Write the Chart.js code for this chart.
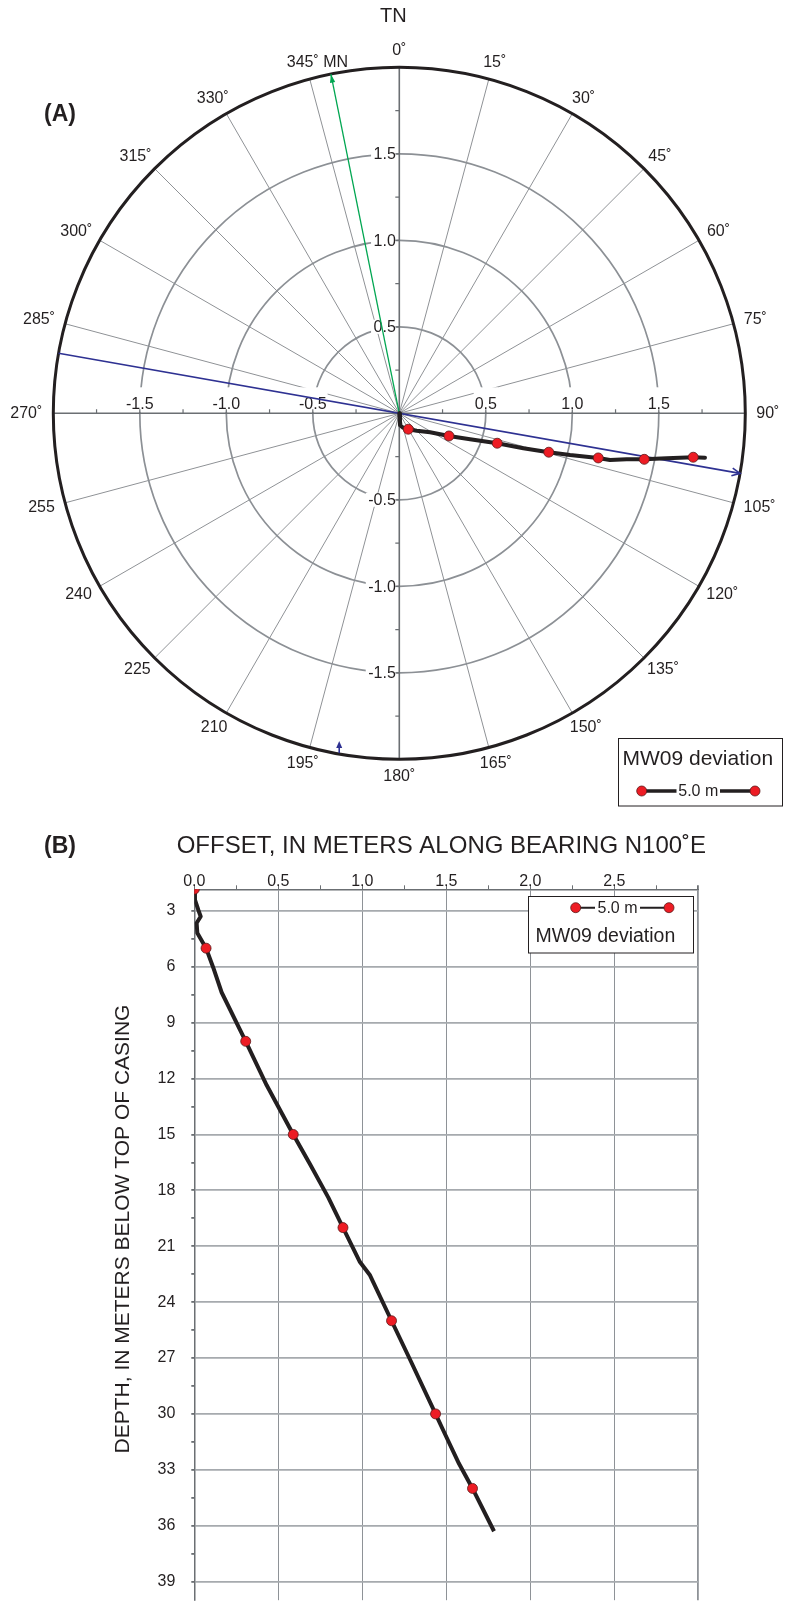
<!DOCTYPE html>
<html>
<head>
<meta charset="utf-8">
<script src="https://cdn.jsdelivr.net/npm/chart.js@4.4.1/dist/chart.umd.min.js"></script>
<style>
  html, body { margin: 0; padding: 0; background: #fff; }
  body { width: 785px; height: 1606px; overflow: hidden; position: relative; }
  canvas { position: absolute; left: 0; }
  #planChart { top: 0; }
  #depthChart { top: 815px; }
</style>
</head>
<body>
<canvas id="planChart" width="785" height="815"></canvas>
<canvas id="depthChart" width="785" height="791"></canvas>
<script>
// ---- chart values ----
var wellLabel = 'MW09 deviation';
var markerLabel = '5.0 m';
var projBearing = 100;      // N100˚E, bearing of the projection line
var magNorth = 348.6;       // bearing of magnetic north
var ringValues = [0.5, 1.0, 1.5];
var outerRadius = 2.0;
var spokeStep = 15;
var noDegree = [210, 225, 240, 255];

// plan view of the hole (meters east / north of top of casing)
var planEast  = [0, 0.004, 0.02, 0.052, 0.101, 0.178, 0.287, 0.409, 0.566, 0.717, 0.864, 0.987, 1.150, 1.218, 1.314, 1.416, 1.546, 1.699, 1.767];
var planNorth = [0, -0.068, -0.082, -0.092, -0.101, -0.110, -0.131, -0.150, -0.173, -0.202, -0.225, -0.241, -0.258, -0.270, -0.266, -0.266, -0.260, -0.254, -0.257];
var dotEast  = [0.052, 0.287, 0.566, 0.864, 1.150, 1.416, 1.699];
var dotNorth = [-0.092, -0.131, -0.173, -0.225, -0.258, -0.266, -0.254];

// section along the bearing
var offsetM = [0.0, 0.004, 0.024, 0.038, 0.014, 0.018, 0.07, 0.113, 0.163, 0.306, 0.431, 0.589, 0.689, 0.798, 0.885, 0.986, 1.046, 1.174, 1.284, 1.436, 1.492, 1.576, 1.656, 1.784];
var depthM  = [1.84, 2.41, 2.95, 3.30, 3.65, 4.19, 5.0, 6.05, 7.38, 10.0, 12.36, 15.0, 16.6, 18.39, 20.0, 21.85, 22.56, 25.0, 27.08, 30.0, 31.08, 32.68, 34.0, 36.3];
var dotOffset = [0.0, 0.07, 0.306, 0.589, 0.885, 1.174, 1.436, 1.656];
var dotDepth  = [1.84, 5, 10, 15, 20, 25, 30, 34];

var offsetLabels = [0, 0.5, 1.0, 1.5, 2.0, 2.5];
var depthLabels = [3, 6, 9, 12, 15, 18, 21, 24, 27, 30, 33, 36, 39];
var depthMin = 1.84, depthMax = 40;
var offsetMin = 0, offsetMax = 3;

var FONT = '"Liberation Sans", Arial, Helvetica, sans-serif';
var INK = '#231f20';
var RED = '#ed1c24';
var GRID = '#8c9095';
var AXIS = '#6b6f73';

function rad(b) { return b * Math.PI / 180; }
function pts(xs, ys) { return xs.map(function (x, i) { return { x: x, y: ys[i] }; }); }

function legendSample(ctx, x1, x2, y, gapL, gapR, lw, size) {
  ctx.strokeStyle = INK; ctx.lineWidth = lw;
  ctx.beginPath(); ctx.moveTo(x1, y); ctx.lineTo(gapL, y); ctx.moveTo(gapR, y); ctx.lineTo(x2, y); ctx.stroke();
  ctx.fillStyle = INK; ctx.font = size + 'px ' + FONT;
  ctx.textAlign = 'center'; ctx.textBaseline = 'middle';
  ctx.fillText(markerLabel, (gapL + gapR) / 2, y + 0.5);
  [x1, x2].forEach(function (x) {
    ctx.beginPath(); ctx.arc(x, y, 5, 0, 2 * Math.PI);
    ctx.fillStyle = RED; ctx.fill();
    ctx.strokeStyle = '#5c1a1a'; ctx.lineWidth = 0.8; ctx.stroke();
  });
}

// ---- (A) plan view ----
var planDecor = {
  id: 'planDecor',
  beforeDatasetsDraw: function (chart) {
    var ctx = chart.ctx, sx = chart.scales.x, sy = chart.scales.y;
    var cx = sx.getPixelForValue(0), cy = sy.getPixelForValue(0);
    var R = sx.getPixelForValue(outerRadius) - cx;
    ctx.save();
    // spokes
    ctx.strokeStyle = '#8f9296'; ctx.lineWidth = 1;
    for (var b = 0; b < 360; b += spokeStep) {
      if (b % 90 === 0) continue;
      ctx.beginPath(); ctx.moveTo(cx, cy);
      ctx.lineTo(cx + R * Math.sin(rad(b)), cy - R * Math.cos(rad(b))); ctx.stroke();
    }
    // rings
    ctx.strokeStyle = GRID; ctx.lineWidth = 1.7;
    ringValues.forEach(function (v) {
      ctx.beginPath(); ctx.arc(cx, cy, sx.getPixelForValue(v) - cx, 0, 2 * Math.PI); ctx.stroke();
    });
    // tick labels on the two axes
    ctx.font = '16px ' + FONT;
    ringValues.forEach(function (v) {
      [v, -v].forEach(function (t) {
        var s = t.toFixed(1), w = ctx.measureText(s).width;
        var x = sx.getPixelForValue(t);
        ctx.fillStyle = '#fff'; ctx.fillRect(x - w / 2 - 1, cy - 26, w + 2, 24.5);
        ctx.fillStyle = INK; ctx.textAlign = 'center'; ctx.textBaseline = 'alphabetic';
        ctx.fillText(s, x, cy - 4.5);
        var y = sy.getPixelForValue(t);
        ctx.fillStyle = '#fff'; ctx.fillRect(cx - 4 - w - 2, y - 7, w + 3, 14);
        ctx.fillStyle = INK; ctx.textAlign = 'right'; ctx.textBaseline = 'middle';
        ctx.fillText(s, cx - 3.5, y + 1);
      });
    });
    // axes with quarter-meter ticks
    ctx.strokeStyle = AXIS; ctx.lineWidth = 1.6;
    ctx.beginPath();
    ctx.moveTo(cx - R, cy); ctx.lineTo(cx + R, cy);
    ctx.moveTo(cx, cy - R); ctx.lineTo(cx, cy + R);
    ctx.stroke();
    ctx.lineWidth = 1.2;
    for (var t = -1.75; t <= 1.76; t += 0.25) {
      if (Math.abs(t) < 0.01) continue;
      var px = sx.getPixelForValue(t), py = sy.getPixelForValue(t);
      ctx.beginPath();
      ctx.moveTo(px, cy); ctx.lineTo(px, cy - 4);
      ctx.moveTo(cx, py); ctx.lineTo(cx - 4, py);
      ctx.stroke();
    }
    // outer circle
    ctx.strokeStyle = INK; ctx.lineWidth = 3;
    ctx.beginPath(); ctx.arc(cx, cy, R, 0, 2 * Math.PI); ctx.stroke();
    // bearing labels
    ctx.fillStyle = INK; ctx.font = '16px ' + FONT;
    ctx.textBaseline = 'middle';
    for (b = 0; b < 360; b += spokeStep) {
      var txt = String(b) + (noDegree.indexOf(b) >= 0 ? '' : '˚');
      var w = ctx.measureText(txt).width, h = 12;
      var sn = Math.sin(rad(b)), cs = Math.cos(rad(b));
      var lx = cx + (R + 11) * sn + sn * w / 2;
      var ly = cy - (R + 11) * cs - cs * h / 2;
      if (b === 345) {
        ctx.textAlign = 'left';
        ctx.fillText(txt + ' MN', lx - w / 2, ly);
      } else {
        ctx.textAlign = 'center';
        ctx.fillText(txt, lx, ly);
      }
    }
    ctx.font = '20px ' + FONT; ctx.textAlign = 'center';
    ctx.fillText('TN', cx - 6, cy - R - 51);
    ctx.font = 'bold 23px ' + FONT;
    ctx.fillText('(A)', 60, 115);
    ctx.restore();
  },
  afterDatasetsDraw: function (chart) {
    var ctx = chart.ctx, sx = chart.scales.x, sy = chart.scales.y;
    var cx = sx.getPixelForValue(0), cy = sy.getPixelForValue(0);
    var R = sx.getPixelForValue(outerRadius) - cx;
    ctx.save();
    // blue open arrowhead at the projection bearing
    var a = rad(projBearing);
    var tx = cx + R * Math.sin(a), ty = cy - R * Math.cos(a);
    var back = a + Math.PI;
    ctx.strokeStyle = '#2e3192'; ctx.lineWidth = 1.6;
    ctx.beginPath();
    ctx.moveTo(tx + 9 * Math.sin(back - 0.45), ty - 9 * Math.cos(back - 0.45));
    ctx.lineTo(tx, ty);
    ctx.lineTo(tx + 9 * Math.sin(back + 0.45), ty - 9 * Math.cos(back + 0.45));
    ctx.stroke();
    // small marker at the perpendicular bearing
    var p = rad(projBearing + 90);
    var bx = cx + R * Math.sin(p), by = cy - R * Math.cos(p) - 1;
    ctx.fillStyle = '#2e3192';
    ctx.beginPath(); ctx.moveTo(bx, by); ctx.lineTo(bx, by - 9); ctx.stroke();
    ctx.beginPath(); ctx.moveTo(bx, by - 12); ctx.lineTo(bx - 3, by - 5); ctx.lineTo(bx + 3, by - 5); ctx.closePath(); ctx.fill();
    // green filled arrowhead for magnetic north
    a = rad(magNorth);
    tx = cx + R * Math.sin(a); ty = cy - R * Math.cos(a);
    back = a + Math.PI;
    ctx.fillStyle = '#00a651';
    ctx.beginPath();
    ctx.moveTo(tx, ty);
    ctx.lineTo(tx + 9 * Math.sin(back - 0.3), ty - 9 * Math.cos(back - 0.3));
    ctx.lineTo(tx + 9 * Math.sin(back + 0.3), ty - 9 * Math.cos(back + 0.3));
    ctx.closePath(); ctx.fill();
    // legend box
    ctx.strokeStyle = INK; ctx.lineWidth = 1;
    ctx.strokeRect(618.5, 738.5, 164, 67.5);
    ctx.fillStyle = INK; ctx.font = '21px ' + FONT;
    ctx.textAlign = 'left'; ctx.textBaseline = 'middle';
    ctx.fillText(wellLabel, 622.5, 759);
    legendSample(ctx, 641.7, 755, 791, 676.5, 720, 3.5, 16);
    ctx.restore();
  }
};

var bearingLine = [
  { x: outerRadius * Math.sin(rad(projBearing + 180)), y: outerRadius * Math.cos(rad(projBearing + 180)) },
  { x: outerRadius * Math.sin(rad(projBearing)), y: outerRadius * Math.cos(rad(projBearing)) }
];
var mnLine = [
  { x: 0, y: 0 },
  { x: outerRadius * Math.sin(rad(magNorth)), y: outerRadius * Math.cos(rad(magNorth)) }
];

new Chart(document.getElementById('planChart'), {
  type: 'scatter',
  data: {
    datasets: [
      { data: pts(dotEast, dotNorth), pointRadius: 5, pointBackgroundColor: RED,
        pointBorderColor: '#5c1a1a', pointBorderWidth: 0.8 },
      { data: pts(planEast, planNorth), showLine: true, borderColor: INK, borderWidth: 4,
        borderCapStyle: 'round', borderJoinStyle: 'round', pointRadius: 0 },
      { data: bearingLine, showLine: true, borderColor: '#2e3192', borderWidth: 1.7, pointRadius: 0 },
      { data: mnLine, showLine: true, borderColor: '#00a651', borderWidth: 1.3, pointRadius: 0 }
    ]
  },
  options: {
    responsive: false,
    animation: false,
    layout: { padding: { left: 53.3, top: 67.3, right: 39.7, bottom: 55.7 } },
    scales: {
      x: { type: 'linear', min: -outerRadius, max: outerRadius, display: false },
      y: { type: 'linear', min: -outerRadius, max: outerRadius, display: false }
    },
    plugins: { legend: { display: false }, tooltip: { enabled: false } }
  },
  plugins: [planDecor]
});

// ---- (B) section along N100˚E ----
var offsetTicks = [];
for (var i = 0; i <= 12; i++) offsetTicks.push(i * 0.25);
var depthTicks = [];
for (i = 0; i <= 24; i++) depthTicks.push(3 + i * 1.5);

var depthDecor = {
  id: 'depthDecor',
  afterDraw: function (chart) {
    var ctx = chart.ctx;
    ctx.save();
    ctx.fillStyle = INK; ctx.textBaseline = 'middle';
    ctx.font = 'bold 23px ' + FONT; ctx.textAlign = 'center';
    ctx.fillText('(B)', 60, 31.7);
    ctx.font = '24px ' + FONT;
    ctx.fillText('OFFSET, IN METERS ALONG BEARING N100˚E', 441.4, 31.7);
    ctx.translate(123, 414);
    ctx.rotate(-Math.PI / 2);
    ctx.font = '21px ' + FONT;
    ctx.fillText('DEPTH, IN METERS BELOW TOP OF CASING', 0, 0);
    ctx.restore();
    ctx.save();
    ctx.fillStyle = '#fff';
    ctx.fillRect(528.5, 81.5, 165, 56.5);
    ctx.strokeStyle = INK; ctx.lineWidth = 1;
    ctx.strokeRect(528.5, 81.5, 165, 56.5);
    ctx.fillStyle = INK; ctx.font = '19.5px ' + FONT;
    ctx.textAlign = 'left'; ctx.textBaseline = 'middle';
    ctx.fillText(wellLabel, 535.5, 122);
    legendSample(ctx, 575.7, 669, 92.7, 595, 640, 2, 16);
    ctx.restore();
  }
};

new Chart(document.getElementById('depthChart'), {
  type: 'scatter',
  data: {
    datasets: [
      { data: pts(dotOffset, dotDepth), pointRadius: 5, pointBackgroundColor: RED,
        pointBorderColor: '#5c1a1a', pointBorderWidth: 0.8 },
      { data: pts(offsetM, depthM), showLine: true, borderColor: INK, borderWidth: 4,
        borderCapStyle: 'butt', borderJoinStyle: 'round', pointRadius: 0 }
    ]
  },
  options: {
    responsive: false,
    animation: false,
    layout: { padding: { left: 0, top: 0, right: 86.7, bottom: 0 } },
    scales: {
      x: {
        type: 'linear', position: 'top', min: offsetMin, max: offsetMax,
        afterBuildTicks: function (s) { s.ticks = offsetTicks.map(function (v) { return { value: v }; }); },
        afterFit: function (s) { s.height = 74.3; s.paddingLeft = 0; s.paddingRight = 0; },
        ticks: {
          autoSkip: false, maxRotation: 0, padding: -6, color: INK,
          font: { family: FONT, size: 16 },
          callback: function (v) { return offsetLabels.indexOf(v) >= 0 ? v.toFixed(1) : ''; }
        },
        grid: {
          color: function (c) { return c.tick && c.tick.value % 0.5 === 0 ? '#8e9297' : 'rgba(0,0,0,0)'; },
          lineWidth: function (c) { return c.tick && c.tick.value === offsetMax ? 1.8 : 1; },
          tickColor: AXIS, tickLength: 4
        },
        border: { display: true, color: AXIS, width: 1.5 }
      },
      y: {
        type: 'linear', reverse: true, min: depthMin, max: depthMax,
        afterBuildTicks: function (s) { s.ticks = depthTicks.map(function (v) { return { value: v }; }); },
        afterFit: function (s) { s.width = 194.3; s.paddingTop = 0; s.paddingBottom = 0; },
        ticks: {
          autoSkip: false, padding: 16, color: INK,
          font: { family: FONT, size: 16 },
          callback: function (v) { return depthLabels.indexOf(v) >= 0 ? String(v) : ''; }
        },
        grid: {
          color: function (c) { return c.tick && depthLabels.indexOf(c.tick.value) >= 0 ? '#a6aaae' : 'rgba(0,0,0,0)'; },
          lineWidth: 1.8,
          tickColor: AXIS, tickLength: 3
        },
        border: { display: true, color: AXIS, width: 1.5 }
      }
    },
    plugins: { legend: { display: false }, tooltip: { enabled: false } }
  },
  plugins: [depthDecor]
});
</script>
</body>
</html>
